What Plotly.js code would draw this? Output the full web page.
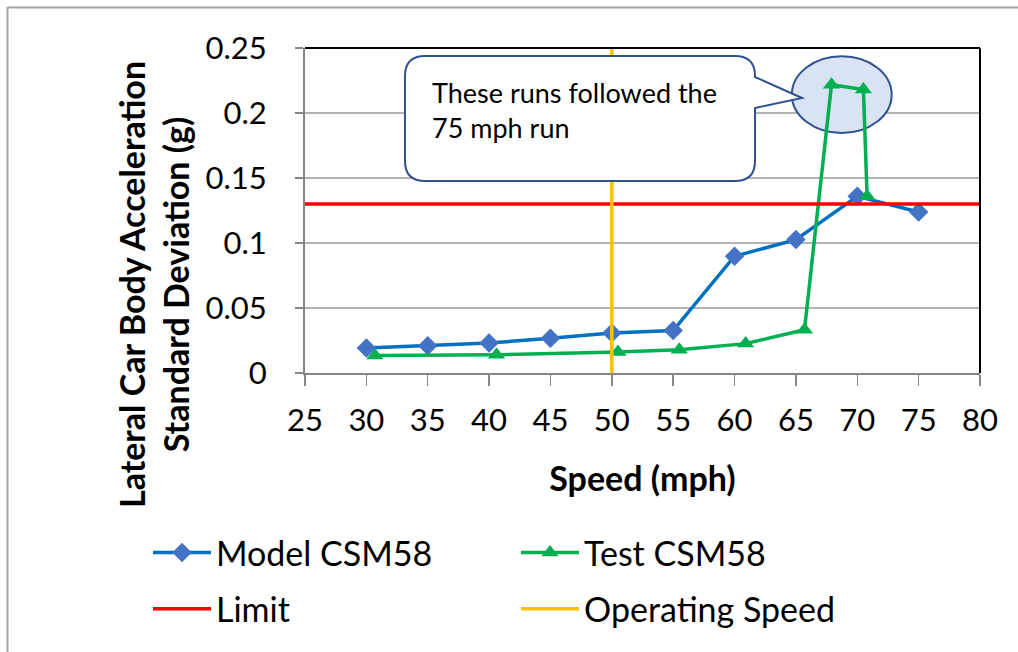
<!DOCTYPE html>
<html>
<head>
<meta charset="utf-8">
<script src="https://cdn.plot.ly/plotly-3.0.1.min.js"></script>
<style>
  html, body { margin: 0; padding: 0; background: #ffffff; }
  #chart { width: 1018px; height: 652px; }
</style>
</head>
<body>
<div id="chart"></div>
<script>
// Speed sweep, model prediction
const modelSpeed = [30, 35, 40, 45, 50, 55, 60, 65, 70, 75];
const modelAccel = [0.0192, 0.021, 0.023, 0.0267, 0.0308, 0.0326, 0.0898, 0.1026, 0.1359, 0.1238];

// Speed sweep, measured on track (last three runs came after the 75 mph run)
const testSpeed = [30.7, 40.6, 50.5, 55.5, 60.9, 65.7, 67.9, 70.5, 70.8];
const testAccel = [0.0134, 0.014, 0.0162, 0.0179, 0.0226, 0.0333, 0.2218, 0.218, 0.136];

// Criterion and operating speed reference lines
const limitSpeed = [25, 80];
const limitAccel = [0.13, 0.13];
const opSpeed = [50, 50];
const opAccel = [0, 0.25];

const xTicks = [25, 30, 35, 40, 45, 50, 55, 60, 65, 70, 75, 80];
const yTicks = [0, 0.05, 0.1, 0.15, 0.2, 0.25];

// Plot frame, in pixels
const W = 1018, H = 652;
const M = { l: 305, r: 38, t: 48, b: 279 };
const plotW = W - M.l - M.r, plotH = H - M.t - M.b;
const px = v => (v - M.l) / plotW;        // pixel x -> paper x
const py = v => (H - M.b - v) / plotH;    // pixel y -> paper y

const FONT = 'Lato, "Open Sans", "DejaVu Sans", sans-serif';

const traces = [
  {
    x: modelSpeed, y: modelAccel, name: 'Model CSM58', type: 'scatter', mode: 'lines+markers',
    line: { color: '#0070C0', width: 3.5 },
    marker: { symbol: 'diamond', size: 15, color: '#4472C4' },
    legend: 'legend', legendgroup: 'a'
  },
  {
    x: testSpeed, y: testAccel, name: 'Test CSM58', type: 'scatter', mode: 'lines+markers',
    line: { color: '#00B050', width: 3.5 },
    marker: { symbol: 'triangle-up', size: 15, color: '#00B050' },
    legend: 'legend2', legendgroup: 'b'
  },
  {
    x: limitSpeed, y: limitAccel, name: 'Limit', type: 'scatter', mode: 'lines',
    line: { color: '#FF0000', width: 3.5 },
    legend: 'legend', legendgroup: 'c', cliponaxis: false
  },
  {
    x: opSpeed, y: opAccel, name: 'Operating Speed', type: 'scatter', mode: 'lines',
    line: { color: '#FFC000', width: 3.5 },
    legend: 'legend2', legendgroup: 'd'
  }
];

// Rounded callout box with a pointer to the circled runs
function calloutPath() {
  const x0 = 405, x1 = 755, y0 = 56, y1 = 181, r = 20;
  const tip = [802, 98], pTop = 77, pBot = 108;
  const P = (x, y) => px(x).toFixed(5) + ',' + py(y).toFixed(5);
  return 'M' + P(x0 + r, y0) +
    ' L' + P(x1 - r, y0) + ' Q' + P(x1, y0) + ' ' + P(x1, y0 + r) +
    ' L' + P(x1, pTop) + ' L' + P(tip[0], tip[1]) + ' L' + P(x1, pBot) +
    ' L' + P(x1, y1 - r) + ' Q' + P(x1, y1) + ' ' + P(x1 - r, y1) +
    ' L' + P(x0 + r, y1) + ' Q' + P(x0, y1) + ' ' + P(x0, y1 - r) +
    ' L' + P(x0, y0 + r) + ' Q' + P(x0, y0) + ' ' + P(x0 + r, y0) + ' Z';
}

const legendStyle = {
  xanchor: 'left', yanchor: 'top',
  orientation: 'v', bgcolor: 'rgba(0,0,0,0)', borderwidth: 0,
  font: { family: FONT, size: 34, color: '#000' }, tracegroupgap: 9,
  itemwidth: 58
};

const layout = {
  width: W, height: H,
  margin: M,
  paper_bgcolor: '#ffffff', plot_bgcolor: '#ffffff',
  font: { family: FONT, color: '#000000', size: 31 },
  showlegend: true,
  xaxis: {
    range: [25, 80], tickvals: xTicks, ticktext: xTicks.map(String),
    showgrid: false, zeroline: false,
    showline: true, linecolor: '#868686', linewidth: 2,
    ticks: 'outside', ticklen: 11, tickcolor: '#868686', tickwidth: 1.5,
    ticklabelstandoff: 8,
    tickfont: { family: FONT, size: 31, color: '#000' },
    title: { text: '<b>Speed (mph)</b>', font: { family: FONT, size: 34, color: '#000' }, standoff: 30 },
    fixedrange: true
  },
  yaxis: {
    range: [0, 0.25], tickvals: yTicks, ticktext: ['0', '0.05', '0.1', '0.15', '0.2', '0.25'],
    showgrid: true, gridcolor: '#b3b3b3', gridwidth: 1.5, zeroline: false,
    showline: true, linecolor: '#868686', linewidth: 2,
    ticks: 'outside', ticklen: 8, tickcolor: '#868686', tickwidth: 1.5,
    ticklabelstandoff: 22,
    tickfont: { family: FONT, size: 31, color: '#000' },
    fixedrange: true
  },
  legend: Object.assign({ x: px(148), y: py(524) }, legendStyle),
  legend2: Object.assign({ x: px(516), y: py(524) }, legendStyle),
  shapes: [
    // chart area border (top and left edges)
    { type: 'line', xref: 'paper', yref: 'paper', x0: px(7.5), x1: px(1018), y0: py(7.5), y1: py(7.5),
      line: { color: '#a6a6a6', width: 2 }, layer: 'below' },
    { type: 'line', xref: 'paper', yref: 'paper', x0: px(7.5), x1: px(7.5), y0: py(7), y1: py(652),
      line: { color: '#a6a6a6', width: 2 }, layer: 'below' },
    // plot area frame, top and right
    { type: 'line', xref: 'paper', yref: 'paper', x0: 0, x1: 1, y0: 1, y1: 1,
      line: { color: '#000000', width: 2 }, layer: 'above' },
    { type: 'line', xref: 'paper', yref: 'paper', x0: 1, x1: 1, y0: 0, y1: 1,
      line: { color: '#000000', width: 2 }, layer: 'above' },
    // highlight around the runs after 75 mph
    { type: 'circle', xref: 'x', yref: 'y', x0: 64.67, x1: 72.8, y0: 0.1846, y1: 0.2436,
      fillcolor: '#dae3f3', line: { color: '#2f528f', width: 2 }, layer: 'between' },
    // callout
    { type: 'path', xref: 'paper', yref: 'paper', path: calloutPath(),
      fillcolor: '#ffffff', line: { color: '#2f528f', width: 2 }, layer: 'above' }
  ],
  annotations: [
    {
      xref: 'paper', yref: 'paper', x: px(153), y: py(285), xanchor: 'center', yanchor: 'middle',
      text: '<b>Lateral Car Body Acceleration<br>Standard Deviation (g)</b>',
      textangle: -90, showarrow: false, font: { family: FONT, size: 34, color: '#000' }
    },
    {
      xref: 'paper', yref: 'paper', x: px(430), y: py(74), xanchor: 'left', yanchor: 'top', align: 'left',
      text: 'These runs followed the<br>75 mph run',
      showarrow: false, font: { family: FONT, size: 27, color: '#000' }
    }
  ]
};

Plotly.newPlot('chart', traces, layout, { displayModeBar: false, staticPlot: true });
</script>
</body>
</html>
